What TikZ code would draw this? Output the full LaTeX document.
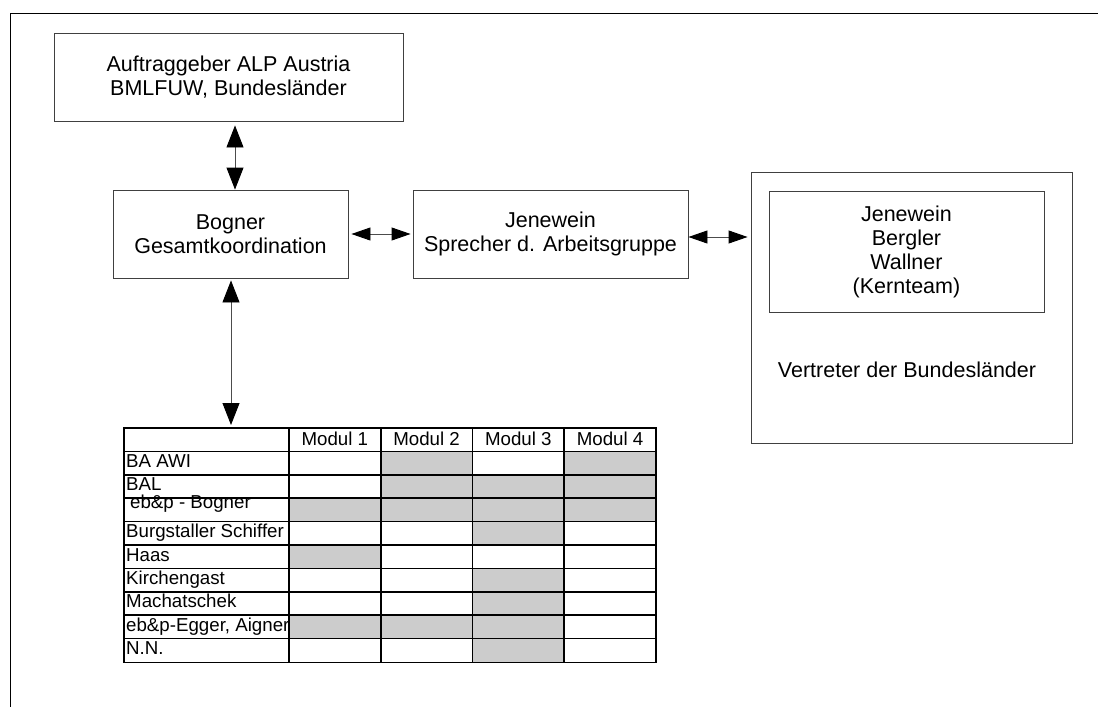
\documentclass[tikz,border=0pt]{standalone}
\usepackage{fontspec}
\setmainfont{Liberation Sans}
\usetikzlibrary{arrows.meta}
\tikzset{
  mybox/.style={draw=black!75, line width=0.9pt, inner sep=0pt, align=center,
    font=\fontsize{21.5}{24}\selectfont},
  btext/.style={inner sep=0pt, font=\fontsize{21.5}{24}\selectfont},
  varr/.style={draw=black!70, line width=0.9pt,
    {Triangle[length=22pt,width=17pt,color=black]}-{Triangle[length=22pt,width=17pt,color=black]}},
  harr/.style={draw=black!70, line width=0.9pt,
    {Triangle[length=19pt,width=13pt,color=black]}-{Triangle[length=19pt,width=13pt,color=black]}},
  grayc/.style={fill=black!20},
  tgrid/.style={line width=1.6pt, draw=black},
  ttext/.style={inner sep=0pt, font=\fontsize{18.7}{20}\selectfont},
  frameline/.style={line width=1pt, draw=black}
}
\begin{document}
\begin{tikzpicture}[x=1pt,y=-1pt]
\useasboundingbox (0,0) rectangle (1098,707);
% partial outer frame
\draw[frameline] (10,710) -- (10,13) -- (1100,13);

% boxes
\node[mybox, minimum width=349pt, minimum height=88pt] (auf) at (228.5,77)
  {Auftraggeber ALP Austria\\BMLFUW, Bundesländer};
\node[mybox, minimum width=235pt, minimum height=88pt] (bog) at (230.5,234)
  {Bogner\\Gesamtkoordination};
\node[mybox, minimum width=275pt, minimum height=88pt] (jen) at (550.5,234)
  {Jenewein\\Sprecher d. Arbeitsgruppe};
\node[mybox, minimum width=321pt, minimum height=271pt] (bl) at (911.5,307.5) {};
\node[mybox, minimum width=275pt, minimum height=121pt] (kern) at (906.5,251.5)
  {Jenewein\\Bergler\\Wallner\\(Kernteam)};
\node[btext, anchor=base] (vert) at (907,377) {Vertreter der Bundesländer};

% table anchor
\coordinate (tbltop) at (231,428);

% arrows
\draw[varr, shorten <=4pt] ([xshift=6.5pt]auf.south) -- ([xshift=4.5pt]bog.north);
\draw[harr, shorten <=3pt, shorten >=2pt] (bog.east) -- (jen.west);
\draw[harr, shorten >=3pt] ([yshift=-3pt]jen.east) -- ([yshift=-3pt]jen.east -| bl.west);
\draw[varr, shorten <=2pt, shorten >=3pt] ([xshift=0.5pt]bog.south) -- (tbltop);

% table shading
\foreach \r/\c in {1/2,1/4,2/2,2/3,2/4,3/1,3/2,3/3,3/4,4/3,5/1,6/3,7/3,8/1,8/2,8/3,9/3}
  \fill[grayc] ({289+91.75*(\c-1)},{428+23.4*\r}) rectangle ++(91.75,23.4);

% table grid
\draw[tgrid] (124,428) rectangle (656,662.6);
\foreach \c in {0,1,2,3}
  \draw[tgrid] ({289+91.75*\c},428) -- ({289+91.75*\c},662.6);
\foreach \r in {1,...,9}
  \draw[tgrid] (124,{428+23.4*\r}) -- (656,{428+23.4*\r});

% header
\foreach \c in {1,2,3,4}
  \node[ttext, anchor=base] (h\c) at ({289+91.75*(\c-0.5)},445) {Modul \c};

% row labels
\begin{scope}
\clip (124,428) rectangle (288,663);
\foreach \r/\t in {1/BA AWI,2/BAL,4/Burgstaller Schiffer,5/Haas,6/Kirchengast,7/Machatschek,8/{eb\&p-Egger, Aigner},9/N.N.}
  \node[ttext, anchor=base west] (l\r) at (126,{428+23.4*\r+16}) {\t};
\node[ttext, anchor=base west] (l3) at (130,{428+23.4*3+10}) {eb\&p - Bogner};
\end{scope}
\end{tikzpicture}
\end{document}
